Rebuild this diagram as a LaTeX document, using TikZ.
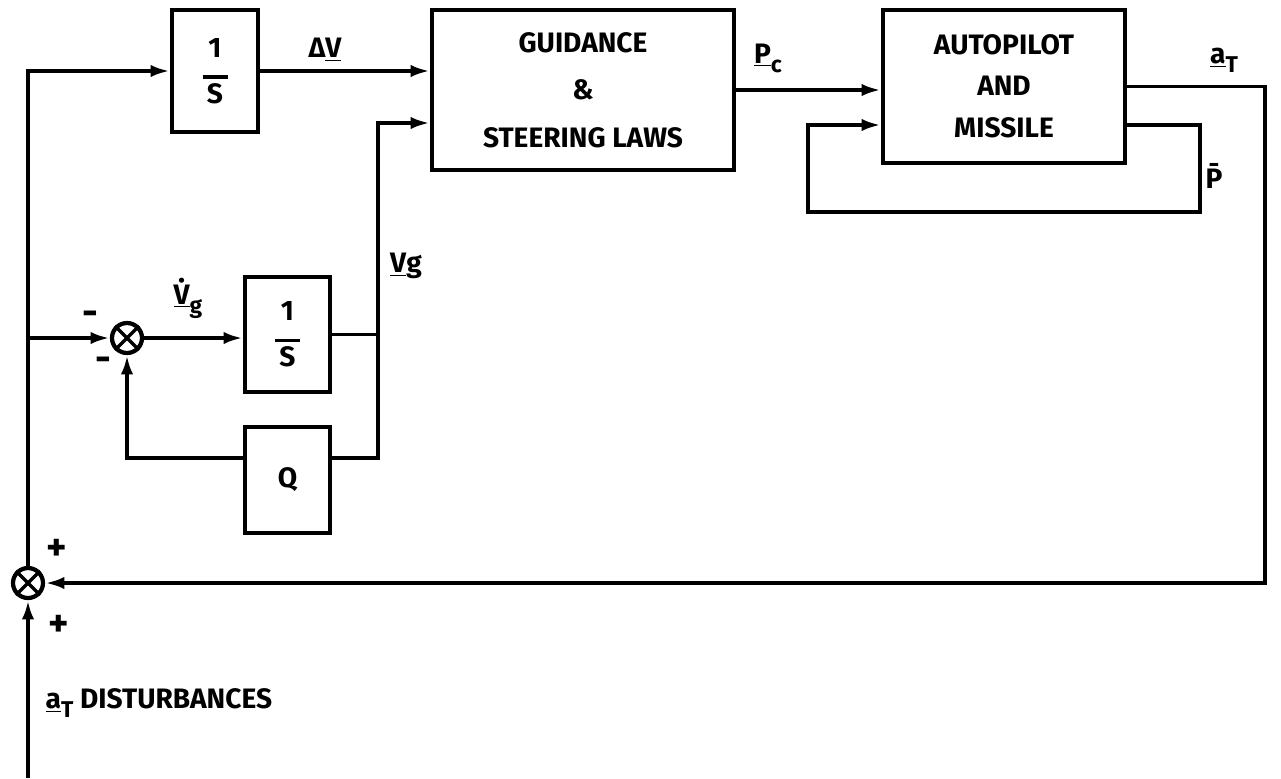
\documentclass[tikz,border=0pt]{standalone}
\usepackage{fontspec}
\setmainfont{Fira Sans}
\usepackage{tikz}
\usetikzlibrary{arrows.meta}
\tikzset{every node/.style={font=\bfseries\fontsize{16}{18}\selectfont}}
\newcommand{\sigsub}[1]{\raisebox{-0.6ex}{\fontsize{13}{15}\selectfont #1}}
\colorlet{linecol}{black}
\colorlet{labelcol}{black}

\begin{document}
\begin{tikzpicture}[x=0.02cm, y=-0.02cm, >={Latex[length=11pt, width=7pt]},
  line width=2.2pt,
  block/.style={draw=linecol, line width=2.4pt, inner sep=0pt, align=center},
  sumjn/.style={draw=linecol, circle, line width=2.4pt, minimum size=0.6cm, inner sep=0pt},
  sig/.style={text=labelcol, inner sep=1pt},
  sign/.style={text=labelcol, inner sep=1pt, font=\bfseries\fontsize{22}{24}\selectfont}]

  % Picture frame.
  \useasboundingbox (0,0) rectangle (1281,778);

  % Blocks.
  \node[block, minimum width=1.72cm, minimum height=2.44cm] (int1) at (215,71)
    {1\\[-6pt]\rule{0.5cm}{2pt}\\[-4pt]S};
  \node[block, minimum width=6.04cm, minimum height=3.2cm] (guide) at (583,90)
    {GUIDANCE\\[9pt]\&\\[9pt]STEERING LAWS};
  \node[block, minimum width=4.84cm, minimum height=3.06cm] (auto) at (1004,86.5)
    {AUTOPILOT\\[5pt]AND\\[6pt]MISSILE};
  \node[block, minimum width=1.7cm, minimum height=2.3cm] (int2) at (287.5,334.5)
    {1\\[-6pt]\rule{0.5cm}{2pt}\\[-4pt]S};
  \node[block, minimum width=1.7cm, minimum height=2.12cm] (qbox) at (287.5,480) {Q};

  % Summing junctions.
  \node[sumjn] (sum1) at (127,338) {};
  \draw[line width=2pt] (sum1.north west) -- (sum1.south east)
    (sum1.north east) -- (sum1.south west);
  \node[sumjn] (sum2) at (28,583) {};
  \draw[line width=2pt] (sum2.north west) -- (sum2.south east)
    (sum2.north east) -- (sum2.south west);

  % Fixed corners of the wiring.
  \coordinate (vg) at (378,338);
  \coordinate (ploopr) at (1200,212);
  \coordinate (ploopl) at (808,212);
  \coordinate (atr) at (1265,583);
  \coordinate (dist) at (28,778);

  % Forward path.
  \draw[->] (sum2.north) |- (int1.west);
  \draw[->] (sum2.north |- sum1.west) -- (sum1.west);
  \draw[->] (int1.east) -- (guide.west |- int1.east);
  \draw[->] (sum1.east) -- (int2.west |- sum1.east);
  \draw[->] (int2.east) -- (vg |- int2.east) |- ([yshift=-0.66cm]guide.west);
  \draw[->] (guide.east) -- (auto.west |- guide.east);

  % Inner loop through Q.
  \draw (vg |- int2.east) |- ([yshift=0.44cm]qbox.east);
  \draw[->] ([yshift=0.44cm]qbox.west) -| (sum1.south);

  % Autopilot loop.
  \draw[->] ([yshift=-0.77cm]auto.east) -| (ploopr) -- (ploopl)
    |- ([yshift=-0.77cm]auto.west);

  % Outer loop and disturbance input.
  \draw[->] (auto.east) -| (atr) -- (sum2.east);
  \draw[->] (dist) -- (sum2.south);

  % Signal labels.
  \node[sig] (dv) at (325,50) {Δ\underline{V}};
  \node[sig] (pc) at (768,58) {\underline{P}\sigsub{c}};
  \node[sig] (vgdot) at (188,298) {\underline{\.{V}}\sigsub{g}};
  \node[sig] (vglab) at (406,266) {\underline{V}g};
  \node[sig] (pbar) at (1214,176) {\={P}};
  \node[sig] (at) at (1224,60) {\underline{a}\sigsub{T}};
  \node[sig, anchor=west] (disturb) at (42,703)
    {\underline{a}\sigsub{T} DISTURBANCES};

  % Signs at the junctions.
  \node[sign] (m1) at (90,318) {-};
  \node[sign] (m2) at (103,364) {-};
  \node[sign] (p1) at (57,550) {+};
  \node[sign] (p2) at (59,626) {+};

\end{tikzpicture}
\end{document}
